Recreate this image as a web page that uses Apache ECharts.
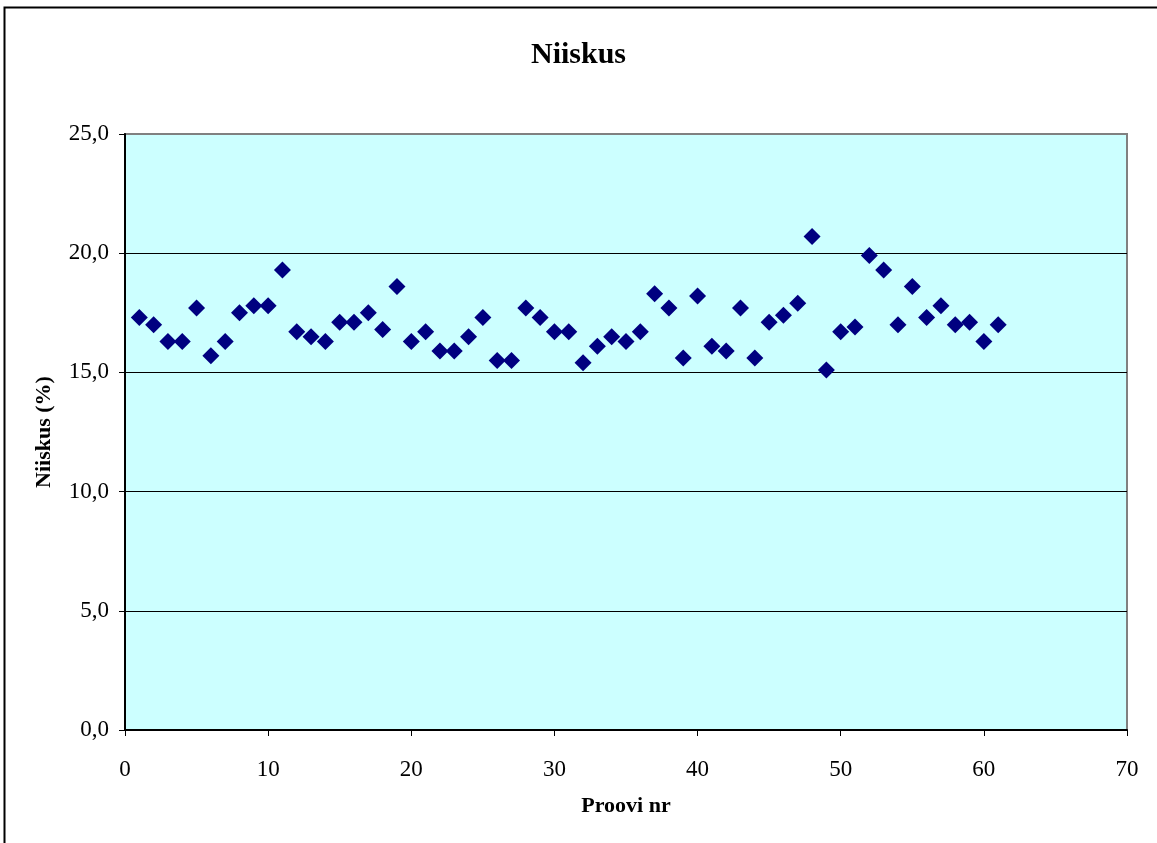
<!DOCTYPE html>
<html>
<head>
<meta charset="utf-8">
<script src="https://cdn.jsdelivr.net/npm/echarts@6/dist/echarts.min.js"></script>
<style>html,body{margin:0;padding:0;background:#fff;}#c{width:1157px;height:843px;}</style>
</head>
<body>
<div id="c"></div>
<script>
const titleText = "Niiskus";
const xName = "Proovi nr";
const yName = "Niiskus (%)";
const sampleNr = [1,2,3,4,5,6,7,8,9,10,11,12,13,14,15,16,17,18,19,20,21,22,23,24,25,26,27,28,29,30,31,32,33,34,35,36,37,38,39,40,41,42,43,44,45,46,47,48,49,50,51,52,53,54,55,56,57,58,59,60,61];
const moisture = [17.3,17.0,16.3,16.3,17.7,15.7,16.3,17.5,17.8,17.8,19.3,16.7,16.5,16.3,17.1,17.1,17.5,16.8,18.6,16.3,16.7,15.9,15.9,16.5,17.3,15.5,15.5,17.7,17.3,16.7,16.7,15.4,16.1,16.5,16.3,16.7,18.3,17.7,15.6,18.2,16.1,15.9,17.7,15.6,17.1,17.4,17.9,20.7,15.1,16.7,16.9,19.9,19.3,17.0,18.6,17.3,17.8,17.0,17.1,16.3,17.0];

const font = "'Liberation Serif','Times New Roman',serif";
const chart = echarts.init(document.getElementById('c'), null, {renderer: 'canvas'});
chart.setOption({
  animation: false,
  backgroundColor: '#ffffff',
  title: {
    text: titleText, left: 'center', top: 35,
    textStyle: {fontFamily: font, fontWeight: 'bold', fontSize: 30, color: '#000'}
  },
  graphic: [{
    type: 'rect', shape: {x: 4.5, y: 7.5, width: 1180, height: 870},
    style: {fill: 'none', stroke: '#000', lineWidth: 2}, silent: true, z: 100
  }],
  grid: {
    left: 125, right: 30, top: 134, bottom: 113,
    show: true, backgroundColor: '#CCFFFF', borderColor: '#808080', borderWidth: 2
  },
  xAxis: {
    type: 'value', min: 0, max: 70, interval: 10,
    name: xName, nameLocation: 'middle', nameGap: 65,
    nameTextStyle: {fontFamily: font, fontWeight: 'bold', fontSize: 22, color: '#000'},
    axisLine: {show: true, onZero: false, lineStyle: {color: '#000', width: 2}},
    axisTick: {show: true, length: 6, inside: false, lineStyle: {color: '#000', width: 1}},
    axisLabel: {fontFamily: font, fontSize: 23, color: '#000', margin: 28},
    splitLine: {show: false}
  },
  yAxis: {
    type: 'value', min: 0, max: 25, interval: 5,
    name: yName, nameLocation: 'middle', nameGap: 70, nameRotate: 90,
    nameTextStyle: {fontFamily: font, fontWeight: 'bold', fontSize: 22, color: '#000'},
    axisLine: {show: true, lineStyle: {color: '#000', width: 2}},
    axisTick: {show: true, length: 6, inside: false, lineStyle: {color: '#000', width: 1}},
    axisLabel: {fontFamily: font, fontSize: 23, color: '#000', margin: 16,
      formatter: v => v.toFixed(1).replace('.', ',')},
    splitLine: {show: true, showMaxLine: false, lineStyle: {color: '#000', width: 1}}
  },
  series: [{
    type: 'scatter', symbol: 'diamond', symbolSize: 17,
    itemStyle: {color: '#000080', opacity: 1},
    data: sampleNr.map((x, i) => [x, moisture[i]])
  }]
});
</script>
</body>
</html>
